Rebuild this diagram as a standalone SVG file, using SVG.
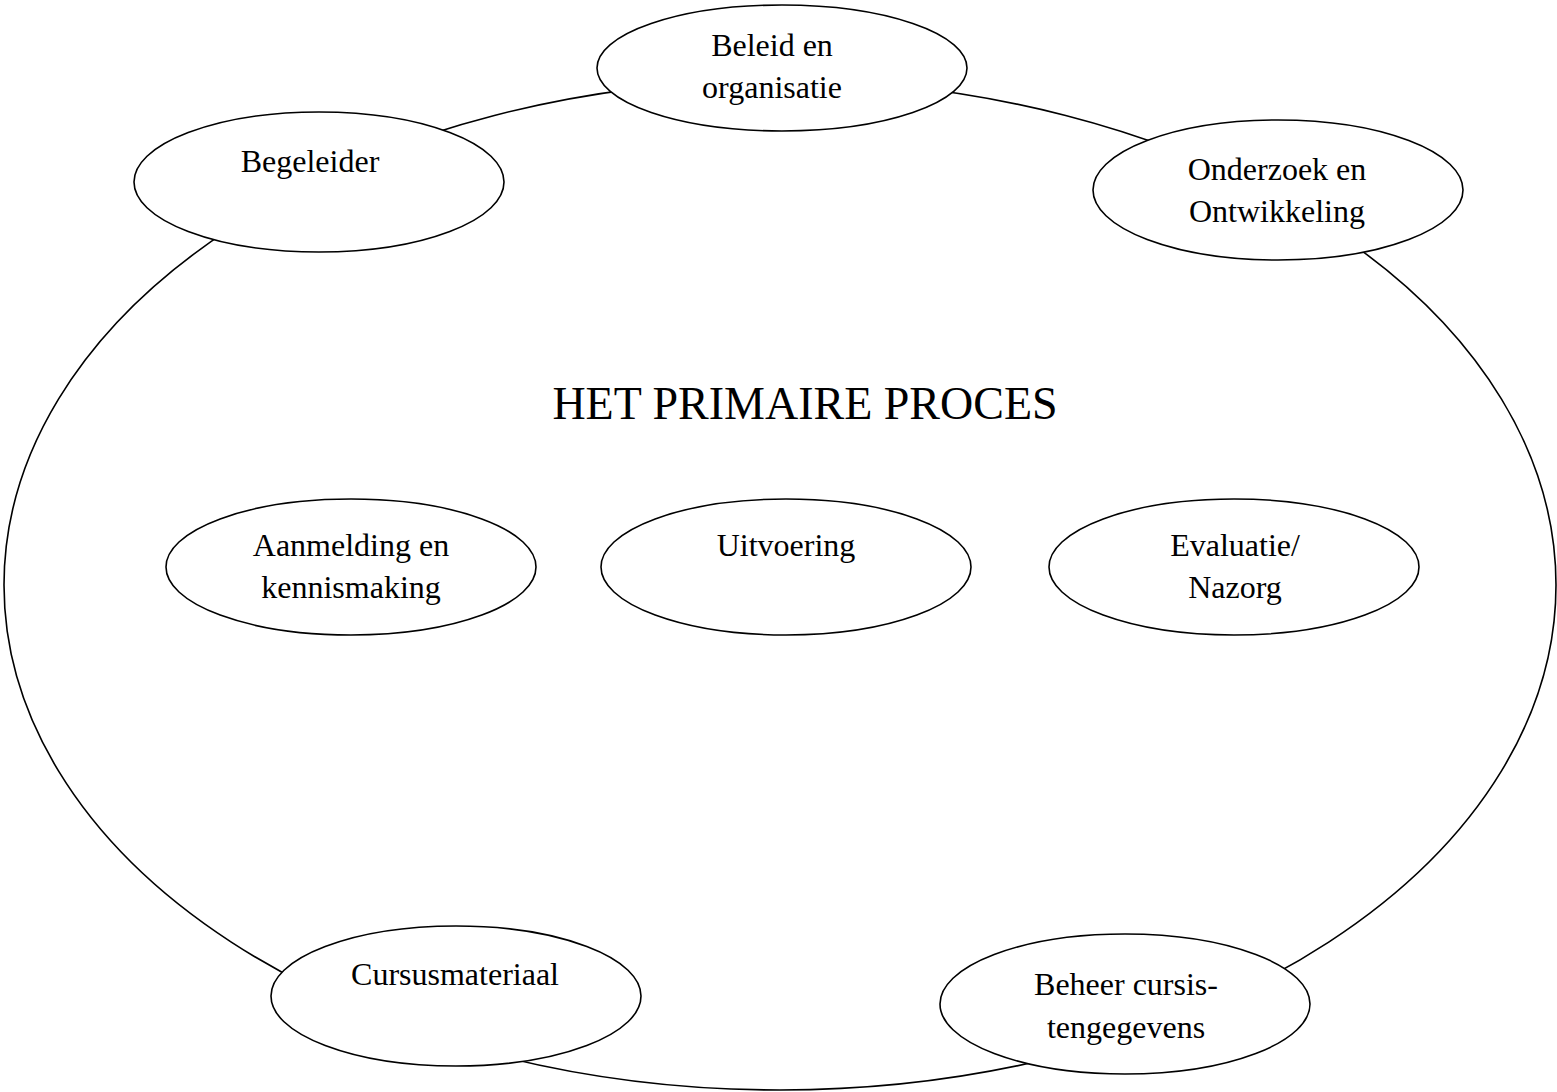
<svg xmlns="http://www.w3.org/2000/svg" width="1557" height="1092" viewBox="0 0 1557 1092">
<style>
.e{fill:#fff;stroke:#000;stroke-width:1.6}
.c{fill:none;stroke:#000;stroke-width:1.6}
text{font-family:"Liberation Serif","Times New Roman",serif;font-size:32px;fill:#000;text-anchor:middle}
.t{font-size:46px}
</style>
<rect width="1557" height="1092" fill="#fff"/>
<g id="connectors">
<ellipse class="c" cx="780" cy="585" rx="776" ry="505"/>
</g>
<text class="t" x="805" y="419">HET PRIMAIRE PROCES</text>
<g id="beleid"><ellipse class="e" cx="782" cy="68" rx="185" ry="63"/><text x="772" y="56">Beleid en</text><text x="772" y="98">organisatie</text></g>
<g id="begeleider"><ellipse class="e" cx="319" cy="182" rx="185" ry="70"/><text x="310" y="172">Begeleider</text></g>
<g id="onderzoek"><ellipse class="e" cx="1278" cy="190" rx="185" ry="70"/><text x="1277" y="180">Onderzoek en</text><text x="1277" y="222">Ontwikkeling</text></g>
<g id="aanmelding"><ellipse class="e" cx="351" cy="567" rx="185" ry="68"/><text x="351" y="556">Aanmelding en</text><text x="351" y="598">kennismaking</text></g>
<g id="uitvoering"><ellipse class="e" cx="786" cy="567" rx="185" ry="68"/><text x="786" y="556">Uitvoering</text></g>
<g id="evaluatie"><ellipse class="e" cx="1234" cy="567" rx="185" ry="68"/><text x="1235" y="556">Evaluatie/</text><text x="1235" y="598">Nazorg</text></g>
<g id="cursusmateriaal"><ellipse class="e" cx="456" cy="996" rx="185" ry="70"/><text x="455" y="985">Cursusmateriaal</text></g>
<g id="beheer"><ellipse class="e" cx="1125" cy="1004" rx="185" ry="70"/><text x="1126" y="995">Beheer cursis-</text><text x="1126" y="1038">tengegevens</text></g>
</svg>
